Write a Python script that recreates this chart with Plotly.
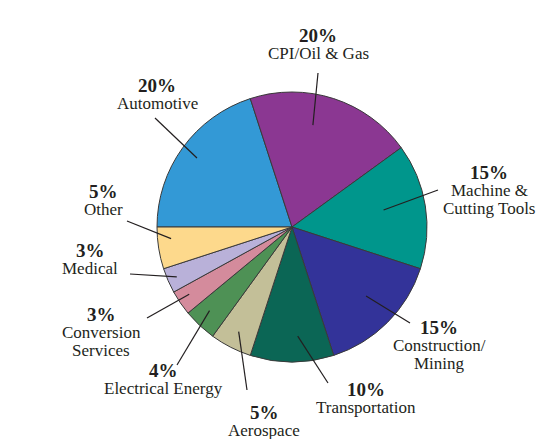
import math
import plotly.graph_objects as go

# Market share by industry segment (percent), in clockwise order from 9 o'clock
segments = ["Automotive", "CPI/Oil & Gas", "Machine & Cutting Tools", "Construction/Mining",
            "Transportation", "Aerospace", "Electrical Energy", "Conversion Services",
            "Medical", "Other"]
shares = [20, 20, 15, 15, 10, 5, 4, 3, 3, 5]
colors = ["#3399d6", "#8b3792", "#00968c", "#333399", "#0b6655",
          "#c3bf98", "#4e9155", "#d48b9c", "#b9b1d9", "#fdd98c"]

# Label lines shown under each percentage
label_lines = [["Automotive"], ["CPI/Oil & Gas"], ["Machine &", "Cutting Tools"],
               ["Construction/", "Mining"], ["Transportation"], ["Aerospace"],
               ["Electrical Energy"], ["Conversion", "Services"], ["Medical"], ["Other"]]

W, H = 555, 439
CX, CY, R = 292, 227, 135
START = 270  # first slice begins at 9 o'clock (degrees clockwise from 12)

# Layout of the callouts (pixels): label block centre, leader-line outer end,
# how far into the slice the leader line reaches (fraction of radius) and
# a small angular nudge away from the slice's middle (degrees)
label_pos = [(157, 85), (318, 35), (489, 172), (439, 327), (366, 389),
             (264, 412), (163, 370), (101, 314), (90, 250), (103, 191)]
leader_end = [(155, 118), (318, 73), (438, 190), (410, 323), (328, 383),
              (247, 390), (177, 365), (147, 318), (130, 274), (127, 221)]
leader_depth = [0.87, 0.77, 0.69, 0.75, 0.81, 0.87, 0.87, 0.91, 0.93, 0.90]
leader_nudge = [0, -6.4, -1.5, -2, -3, 0, 1.4, 1, 0, 3.5]

PCT_SIZE, NAME_SIZE, LINE_GAP = 19, 17, 18
TEXT_COLOR = "#231f20"
FONT = "Liberation Serif"


def px(x):
    return x / W


def py(y):
    return 1 - y / H


fig = go.Figure(go.Pie(
    labels=segments,
    values=shares,
    sort=False,
    direction="clockwise",
    rotation=START,
    marker=dict(colors=colors, line=dict(color="#3a3a3a", width=1)),
    textinfo="none",
    hoverinfo="label+percent",
    showlegend=False,
    domain=dict(x=[px(CX - R), px(CX + R)], y=[py(CY + R), py(CY - R)]),
))

shapes = []
annotations = []
total = sum(shares)
cum = 0
for i, v in enumerate(shares):
    mid = START + (cum + v / 2) / total * 360 + leader_nudge[i]
    cum += v
    a = math.radians(mid)
    r = R * leader_depth[i]
    x0 = CX + r * math.sin(a)
    y0 = CY - r * math.cos(a)
    x1, y1 = leader_end[i]
    shapes.append(dict(type="line", xref="paper", yref="paper",
                       x0=px(x0), y0=py(y0), x1=px(x1), y1=py(y1),
                       line=dict(color=TEXT_COLOR, width=1.2)))
    lx, ly = label_pos[i]
    annotations.append(dict(x=px(lx), y=py(ly), xref="paper", yref="paper",
                            text=f"<b>{v}%</b>", showarrow=False,
                            xanchor="center", yanchor="middle",
                            font=dict(family=FONT, size=PCT_SIZE, color=TEXT_COLOR)))
    for k, line in enumerate(label_lines[i]):
        annotations.append(dict(x=px(lx), y=py(ly + LINE_GAP * (k + 1) + (1 if i == 1 else 0)),
                                xref="paper", yref="paper",
                                text=line, showarrow=False,
                                xanchor="center", yanchor="middle",
                                font=dict(family=FONT, size=NAME_SIZE, color=TEXT_COLOR)))

fig.update_layout(
    width=W, height=H,
    margin=dict(l=0, r=0, t=0, b=0),
    paper_bgcolor="white",
    plot_bgcolor="white",
    shapes=shapes,
    annotations=annotations,
)

fig.write_html("out.html")
